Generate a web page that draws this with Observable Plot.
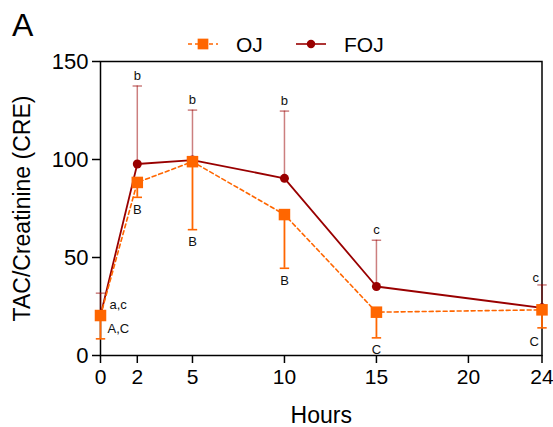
<!DOCTYPE html>
<html><head><meta charset="utf-8">
<script src="https://cdn.jsdelivr.net/npm/d3@7"></script>
<script src="https://cdn.jsdelivr.net/npm/@observablehq/plot@0.6"></script>
<style>
body{margin:0;background:#fff;}
#fig{width:553px;height:427px;font-family:"Liberation Sans",Arial,sans-serif;}
#fig svg{display:block;}
</style></head><body>
<div id="fig"></div>
<script>
// ---- data ----
const hours = [0, 2, 5, 10, 15, 24];
const xTicks = [0, 2, 5, 10, 15, 20, 24];
const yTicks = [0, 50, 100, 150];
const seriesNames = ["OJ", "FOJ"];
const ojMean = [20.4, 88.3, 98.9, 71.9, 22.1, 23.3];
const ojErr  = [11.9, 7.6, 34.7, 27.4, 13.1, 9.2];   // drawn downward
const fojMean = [20.4, 97.7, 99.7, 90.4, 35.2, 24.3];
const fojErr  = [11.4, 39.8, 25.5, 34.3, 23.6, 11.7]; // drawn upward
const ojLabels = ["A,C", "B", "B", "B", "C", "C"];
const fojLabels = ["a,c", "b", "b", "b", "c", "c"];

const ojColor = "#ff6600", fojColor = "#990000";
const font = "'Liberation Sans', Arial, sans-serif";

// ---- header: panel letter + legend ----
const W = 553, H = 427, headH = 50;
const head = d3.select("#fig").append("svg").attr("width", W).attr("height", headH)
  .style("font-family", font).style("overflow", "visible").style("position", "relative").style("z-index", 1);
head.append("text").attr("x", 12).attr("y", 36).attr("font-size", 32).attr("fill", "#000").text("A");
const legItems = [
  {name: seriesNames[0], color: ojColor, dash: "4,3", sym: d3.symbolSquare, size: 115, x: 188},
  {name: seriesNames[1], color: fojColor, dash: null, sym: d3.symbolCircle, size: 56, x: 296}
];
for (const it of legItems) {
  const g = head.append("g").attr("transform", `translate(${it.x},44)`);
  g.append("line").attr("x1", 0).attr("x2", 30).attr("stroke", it.color).attr("stroke-width", 1.6)
    .attr("stroke-dasharray", it.dash);
  g.append("path").attr("transform", "translate(15,0)").attr("d", d3.symbol(it.sym, it.size)()).attr("fill", it.color);
  g.append("text").attr("x", 48).attr("y", 7.6).attr("font-size", 21).attr("fill", "#000").text(it.name);
}

// ---- chart ----
const rows = hours.map((h, i) => ({
  h, i,
  oj: ojMean[i], ojLo: ojMean[i] - ojErr[i], ojMid: ojMean[i] - ojErr[i] / 2,
  foj: fojMean[i], fojHi: fojMean[i] + fojErr[i], fojMid: fojMean[i] + fojErr[i] / 2,
  ojLab: ojLabels[i], fojLab: fojLabels[i]
}));
const first = rows.filter(d => d.i === 0);
const last = rows.filter(d => d.i === rows.length - 1);
const mid = rows.filter(d => d.i > 0 && d.i < rows.length - 1);
const cap = {draw(ctx) { ctx.moveTo(-4.7, 0); ctx.lineTo(4.7, 0); }};
const lab = {fontSize: 13, fill: "#111"};

const chart = Plot.plot({
  width: W, height: H - headH,
  marginTop: 11, marginBottom: 72, marginLeft: 100, marginRight: 11.5,
  style: {fontFamily: font, background: "transparent", overflow: "visible"},
  x: {domain: [0, 24]},
  y: {domain: [0, 150]},
  marks: [
    Plot.frame({stroke: "#000", strokeWidth: 1.5}),
    Plot.axisY({ticks: yTicks, tickSize: 8, tickPadding: 4, fontSize: 22, label: null, strokeWidth: 1.5, fill: "#000"}),
    Plot.axisX({ticks: xTicks, tickSize: 8, tickPadding: 6, fontSize: 21, label: null, strokeWidth: 1.5, fill: "#000"}),
    Plot.text(["Hours"], {frameAnchor: "bottom", lineAnchor: "top", dy: 51, fontSize: 23, fill: "#000"}),
    Plot.text(["TAC/Creatinine (CRE)"], {frameAnchor: "left", textAnchor: "middle", rotate: -90, dx: -78, fontSize: 23, fill: "#000"}),
    // FOJ
    Plot.ruleX(rows, {x: "h", y1: "foj", y2: "fojHi", stroke: fojColor, strokeOpacity: 0.5, strokeWidth: 1.5}),
    Plot.dot(rows, {x: "h", y: "fojHi", symbol: cap, fill: "none", stroke: fojColor, strokeOpacity: 0.5, strokeWidth: 1.5}),
    Plot.line(rows, {x: "h", y: "foj", stroke: fojColor, strokeWidth: 1.8}),
    Plot.dot(rows, {x: "h", y: "foj", symbol: "circle", r: 4.5, fill: fojColor, stroke: "none"}),
    // OJ
    Plot.ruleX(rows, {x: "h", y1: "oj", y2: "ojLo", stroke: ojColor, strokeWidth: 1.8}),
    Plot.dot(rows, {x: "h", y: "ojLo", symbol: cap, fill: "none", stroke: ojColor, strokeWidth: 1.6}),
    Plot.line(rows, {x: "h", y: "oj", stroke: ojColor, strokeWidth: 1.6, strokeDasharray: "4,3"}),
    Plot.dot(rows, {x: "h", y: "oj", symbol: "square", r: 6.5, fill: ojColor, stroke: "none"}),
    // significance letters
    Plot.text(mid, {x: "h", y: "fojHi", text: "fojLab", lineAnchor: "bottom", dy: -6, ...lab}),
    Plot.text(mid, {x: "h", y: "ojLo", text: "ojLab", lineAnchor: "top", dy: 7, ...lab}),
    Plot.text(first, {x: "h", y: "fojMid", text: "fojLab", textAnchor: "start", dx: 9, ...lab}),
    Plot.text(first, {x: "h", y: "ojMid", text: "ojLab", textAnchor: "start", dx: 7, dy: 2, ...lab}),
    Plot.text(last, {x: "h", y: "fojHi", text: "fojLab", textAnchor: "end", lineAnchor: "bottom", dx: -3, dy: -3, ...lab}),
    Plot.text(last, {x: "h", y: "ojLo", text: "ojLab", textAnchor: "end", lineAnchor: "top", dx: -3, dy: 9, ...lab})
  ]
});
document.getElementById("fig").appendChild(chart);
</script>
</body></html>
